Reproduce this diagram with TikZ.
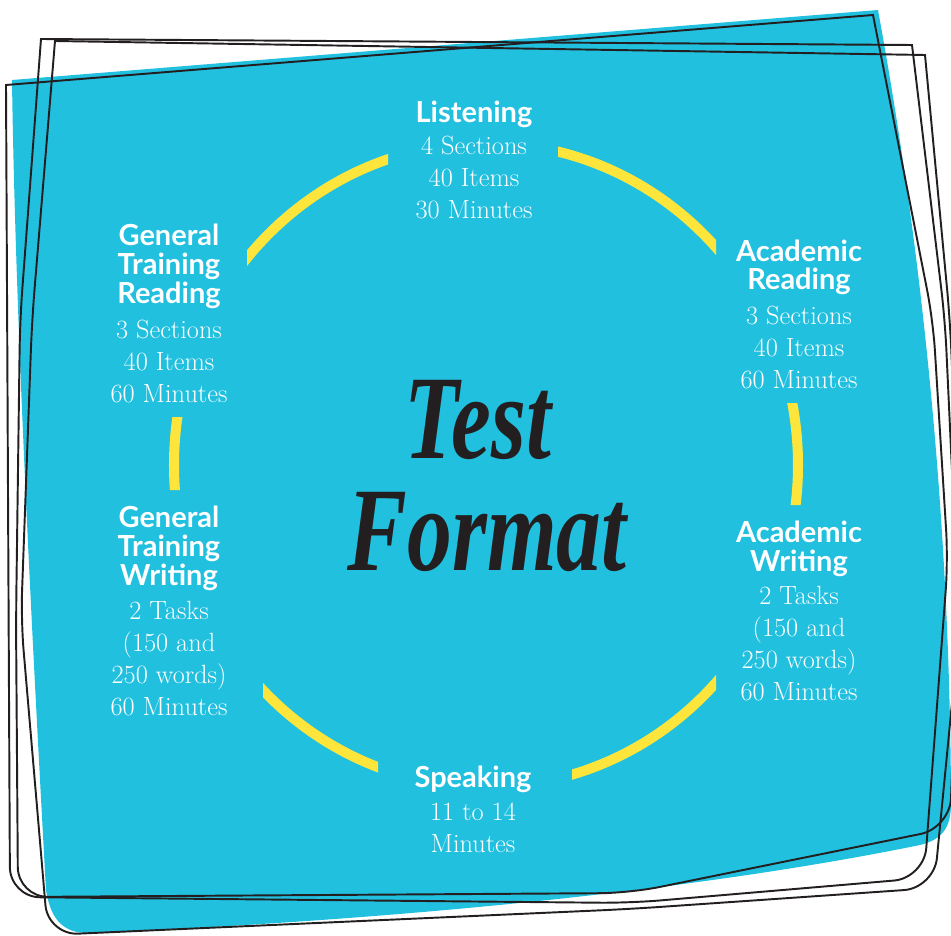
\documentclass[tikz,border=0pt]{standalone}
\usepackage{fontspec}
\newfontfamily\headfont{Lato}
\newfontfamily\brushfont[FakeStretch=0.75]{Liberation Serif}
\definecolor{examblue}{HTML}{21C0DF}
\definecolor{ringyellow}{HTML}{FDE53B}
\definecolor{inkline}{HTML}{231F20}
\tikzset{
  head/.style={text=white, align=center, anchor=base, font=\headfont\bfseries\fontsize{16.5}{16.3}\selectfont},
  info/.style={text=white, align=center, anchor=base, font=\fontsize{15}{18.2}\selectfont},
  ring/.style={ringyellow, line width=5.7pt},
  sketch/.style={inkline, line width=1.1pt},
}
\begin{document}
\begin{tikzpicture}[x=0.02cm, y=-0.02cm]
    \useasboundingbox (0,0) rectangle (951,936);
    \clip (0,0) rectangle (951,936);
    % card
    \fill[examblue] (12,80) -- (878,10) .. controls (922,250) and (950,520) .. (951,800)
        .. controls (952,830) and (940,840) .. (920,845) .. controls (700,890) and (400,920) .. (90,933)
        .. controls (60,934) and (50,915) .. (46,890) .. controls (30,600) and (15,300) .. (12,80) -- cycle;
    % hand drawn frames
    \draw[sketch] (6,85) -- (873,15) [rounded corners=0.6cm] -- (933,320) -- (948,560) -- (924,878) -- (630,903) -- (10,897) [sharp corners] -- cycle;
    \draw[sketch] (41,39) -- (912,45) [rounded corners=0.6cm] -- (945,320) -- (958,600) -- (950,828) -- (630,893) -- (18,897) -- (16,620) -- (20,320) [sharp corners] -- cycle;
    \draw[sketch] (55,41) -- (925,55) [rounded corners=0.6cm] -- (950,320) -- (962,600) -- (934,888) -- (630,909) -- (48,935) -- (21,620) -- (32,320) [sharp corners] -- cycle;
    % ring, broken by the text blocks
    \begin{scope}[even odd rule]
        \clip (0,0) rectangle (951,936)
            (388,0) rectangle (558,240) (0,0) rectangle (247,417) (0,490) rectangle (263,936)
            (378,700) rectangle (572,936) (716,0) rectangle (951,403) (716,505) rectangle (951,936);
        \draw[ring] (486,465) ellipse [x radius=312, y radius=322];
    \end{scope}
    % base = last line
    \node[head] (listen) at (474,123) {Listening};
    \node[info] (listen-b) at (474,218) {4 Sections\\40 Items\\30 Minutes};
    \node[head] (genread) at (169,303) {General\\Training\\Reading};
    \node[info] (genread-b) at (169,402) {3 Sections\\40 Items\\60 Minutes};
    \node[head] (acread) at (799,290) {Academic\\Reading};
    \node[info] (acread-b) at (799,388) {3 Sections\\40 Items\\60 Minutes};
    \node[head] (genwrite) at (169,585) {General\\Training\\Writing};
    \node[info] (genwrite-b) at (169,715) {2 Tasks\\(150 and\\250 words)\\60 Minutes};
    \node[head] (acwrite) at (799,571) {Academic\\Writing};
    \node[info] (acwrite-b) at (799,700) {2 Tasks\\(150 and\\250 words)\\60 Minutes};
    \node[head] (speak) at (473,787) {Speaking};
    \node[info] (speak-b) at (473,852) {11 to 14\\Minutes};
    \node[anchor=base, font=\brushfont\bfseries\itshape\fontsize{68}{68}\selectfont, text=inkline] (test) at (478,458) {Test};
    \node[anchor=base, font=\brushfont\bfseries\itshape\fontsize{68}{68}\selectfont, text=inkline] (format) at (487,570) {Format};
\end{tikzpicture}
\end{document}
